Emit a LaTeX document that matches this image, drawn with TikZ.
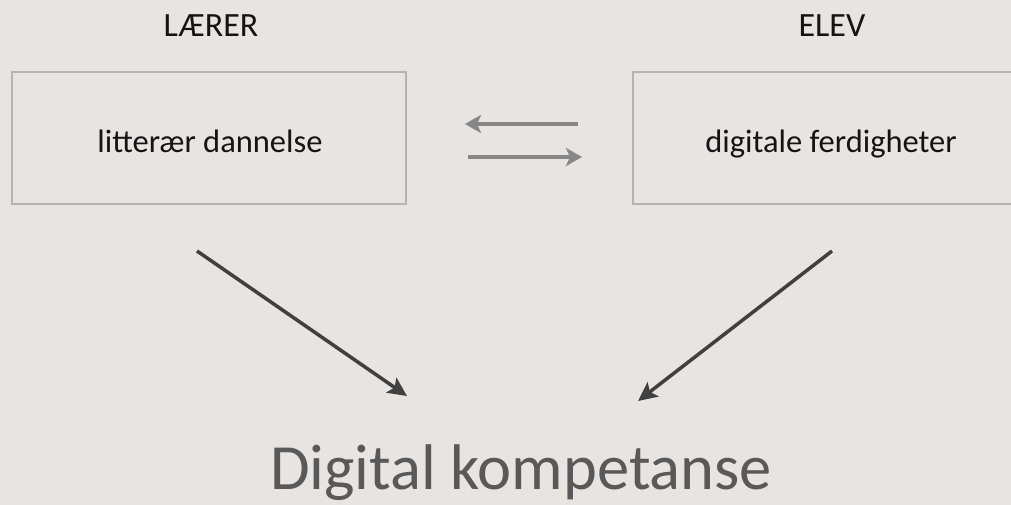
\documentclass[tikz,border=0pt]{standalone}
\usepackage{fontspec}
\setmainfont{Carlito}
\usetikzlibrary{arrows.meta}
\definecolor{bg}{HTML}{E8E4E1}
\definecolor{boxline}{HTML}{B4B4B4}
\definecolor{grayarrow}{HTML}{878787}
\definecolor{darkarrow}{HTML}{404040}
\definecolor{bigtext}{HTML}{595959}
\definecolor{labeltext}{HTML}{141414}
\tikzset{
  boxnode/.style={draw=boxline, line width=2pt, minimum width=394pt, minimum height=132pt, inner sep=0pt},
  labelfont/.style={font=\fontsize{32.5}{36}\selectfont, text=labeltext},
  headfont/.style={font=\fontsize{34}{38}\selectfont, text=labeltext},
  exchange/.style={draw=grayarrow, line width=3.5pt, -{Stealth[length=16pt, width=18pt, inset=4pt]}},
  merge/.style={draw=darkarrow, line width=3.5pt, -{Stealth[length=19pt, width=18pt, inset=4pt]}},
}
\begin{document}
\begin{tikzpicture}[x=1pt, y=-1pt]
\fill[bg] (0,0) rectangle (1011,505);
\useasboundingbox (0,0) rectangle (1011,505);
\begin{scope}
\clip (0,0) rectangle (1011,505);
\node[boxnode] (laererbox) at (209,138) {};
\node[boxnode] (elevbox) at (830,138) {};
\end{scope}
\node[headfont, anchor=base] (laerer) at (211,37) {LÆRER};
\node[headfont, anchor=base] (elev) at (832,37) {ELEV};
\node[labelfont, anchor=base] (litt) at (210,153) {litterær dannelse};
\node[labelfont, anchor=base] (digi) at (831,153) {digitale ferdigheter};
\node[anchor=base, inner sep=0pt, font=\fontsize{64.5}{68}\selectfont, text=bigtext] (komp) at (521,489) {Digital kompetanse};
\coordinate (la1) at (578,124);
\coordinate (la2) at (465,124);
\coordinate (ra1) at (468,157);
\coordinate (ra2) at (582,157);
\coordinate (d1s) at (197,251);
\coordinate (d1e) at (407,396);
\coordinate (d2s) at (832,251);
\coordinate (d2e) at (638,401);
\draw[exchange] (la1) -- (la2);
\draw[exchange] (ra1) -- (ra2);
\draw[merge] (d1s) -- (d1e);
\draw[merge] (d2s) -- (d2e);
\end{tikzpicture}
\end{document}
